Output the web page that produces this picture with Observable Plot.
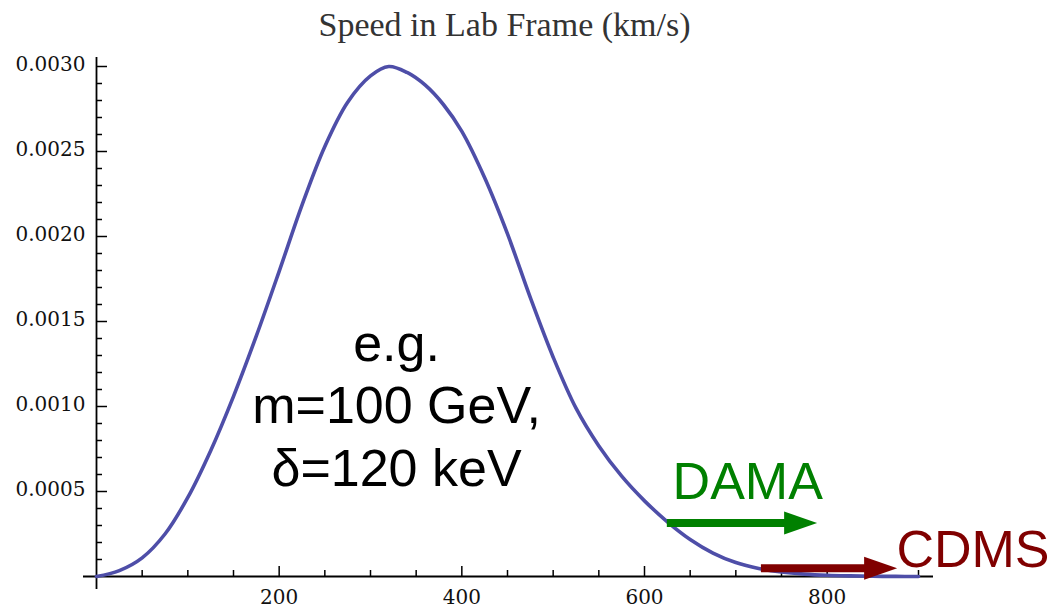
<!DOCTYPE html>
<html>
<head>
<meta charset="utf-8">
<script src="https://cdn.jsdelivr.net/npm/d3@7"></script>
<script src="https://cdn.jsdelivr.net/npm/@observablehq/plot@0.6"></script>
<style>
  html, body { margin: 0; padding: 0; background: #fff; }
  svg { display: block; }
</style>
</head>
<body>
<div id="chart"></div>
<script>
// ---- data ----
const speed =   [0, 25, 50, 75, 100, 125, 150, 175, 200, 225, 250, 275, 300, 320, 340, 360, 380, 400, 425, 450, 475, 500, 525, 550, 575, 600, 625, 650, 675, 700, 725, 750, 775, 800, 825, 850, 875, 900];
const density = [0, 0.000035, 0.00011, 0.00025, 0.000465, 0.00074, 0.00106, 0.001415, 0.001795, 0.002185, 0.00253, 0.00279, 0.002945, 0.0030, 0.002965, 0.00289, 0.002775, 0.002618, 0.002345, 0.002015, 0.00164, 0.00129, 0.00099, 0.000768, 0.00059, 0.000445, 0.000322, 0.000218, 0.000138, 0.000082, 0.000047, 0.000026, 0.000014, 0.000007, 0.0000035, 0.0000015, 0.0000005, 0];

const xMajorTicks = [200, 400, 600, 800];
const xTickLabels = ["200", "400", "600", "800"];
const xMinorTicks = [50, 100, 150, 250, 300, 350, 450, 500, 550, 650, 700, 750, 850, 900];
const yMajorTicks = [0.0005, 0.0010, 0.0015, 0.0020, 0.0025, 0.0030];
const yTickLabels = ["0.0005", "0.0010", "0.0015", "0.0020", "0.0025", "0.0030"];
const yMinorTicks = [0.0001, 0.0002, 0.0003, 0.0004, 0.0006, 0.0007, 0.0008, 0.0009, 0.0011, 0.0012, 0.0013, 0.0014, 0.0016, 0.0017, 0.0018, 0.0019, 0.0021, 0.0022, 0.0023, 0.0024, 0.0026, 0.0027, 0.0028, 0.0029];

const arrowNames = ["DAMA", "CDMS"];
const arrowFrom = [625, 728];
const arrowTo = [789, 876.6];
const arrowLevel = [0.000314, 0.000049];
const arrowLabelX = [713, 959.6];
const arrowLabelY = [0.000457, 0.000053];
const arrowColors = ["#008000", "#800000"];

const noteText = "e.g.\nm=100 GeV,\nδ=120 keV";
const noteX = [328.5];
const noteY = [0.000535];

const titleText = "Speed in Lab Frame (km/s)";

// ---- layout ----
const W = 1051, H = 608;
const mL = 96, mR = 133, mT = 66, mB = 32;
const xDomain = [0, 900], yDomain = [0, 0.003];
const pxPerX = (W - mL - mR) / (xDomain[1] - xDomain[0]);
const pxPerY = (H - mT - mB) / (yDomain[1] - yDomain[0]);

const curve = speed.map((v, i) => ({v, f: density[i]}));
const arrows = arrowNames.map((name, i) => ({
  name, x1: arrowFrom[i], x2: arrowTo[i], y: arrowLevel[i],
  lx: arrowLabelX[i], ly: arrowLabelY[i], color: arrowColors[i]
}));

const headSymbol = {
  draw(ctx) {
    ctx.moveTo(0, 0);
    ctx.lineTo(-33, -11.5);
    ctx.lineTo(-33, 11.5);
    ctx.closePath();
  }
};

const tickFont = "DejaVu Serif, serif";
const sansFont = "Liberation Sans, Arial, sans-serif";

const plot = Plot.plot({
  width: W, height: H,
  marginLeft: mL, marginRight: mR, marginTop: mT, marginBottom: mB,
  x: {domain: xDomain, axis: null},
  y: {domain: yDomain, axis: null},
  style: {background: "#fff", overflow: "visible"},
  marks: [
    // axes
    Plot.ruleY([0], {insetLeft: -13, insetRight: -15, stroke: "#000", strokeWidth: 1.8}),
    Plot.ruleX([0], {insetTop: -9, insetBottom: -13, stroke: "#000", strokeWidth: 1.8}),
    // x ticks (pointing up)
    Plot.ruleX(xMajorTicks, {x: d => d, y1: 0, y2: 10 / pxPerY, stroke: "#000", strokeWidth: 1.5}),
    Plot.ruleX(xMinorTicks, {x: d => d, y1: 0, y2: 6 / pxPerY, stroke: "#000", strokeWidth: 1.5}),
    // y ticks (pointing right)
    Plot.ruleY(yMajorTicks, {y: d => d, x1: 0, x2: 11 / pxPerX, stroke: "#000", strokeWidth: 1.5}),
    Plot.ruleY(yMinorTicks, {y: d => d, x1: 0, x2: 6 / pxPerX, stroke: "#000", strokeWidth: 1.5}),
    // tick labels
    Plot.text(xMajorTicks, {x: d => d, y: 0, text: (d, i) => xTickLabels[i], dy: 21, fontFamily: tickFont, fontSize: 20, fill: "#111"}),
    Plot.text(yMajorTicks, {x: 0, y: d => d, text: (d, i) => yTickLabels[i], textAnchor: "end", dx: -11, dy: -2, fontFamily: tickFont, fontSize: 20, fill: "#111"}),
    // title
    Plot.text([titleText], {frameAnchor: "top", text: d => d, dx: -3, dy: -31, lineAnchor: "bottom", fontFamily: "Liberation Serif, serif", fontSize: 34, fill: "#333"}),
    // curve
    Plot.line(curve, {x: "v", y: "f", stroke: "#4e4ea8", strokeWidth: 3.6, curve: "catmull-rom"}),
    // arrows
    Plot.ruleY(arrows, {x1: "x1", x2: "x2", y: "y", stroke: "color", strokeWidth: 8, insetRight: 28}),
    Plot.dot(arrows, {x: "x2", y: "y", symbol: headSymbol, fill: "color", stroke: "none", r: 4}),
    Plot.text(arrows, {x: "lx", y: "ly", text: "name", fill: "color", lineAnchor: "bottom", fontFamily: sansFont, fontSize: 52}),
    // annotation
    Plot.text(noteX, {x: d => d, y: (d, i) => noteY[i], text: [noteText], lineAnchor: "bottom", lineHeight: 1.2, fontFamily: sansFont, fontSize: 52, fill: "#000"})
  ]
});
plot.setAttribute("color", "black");
document.getElementById("chart").append(plot);
</script>
</body>
</html>
